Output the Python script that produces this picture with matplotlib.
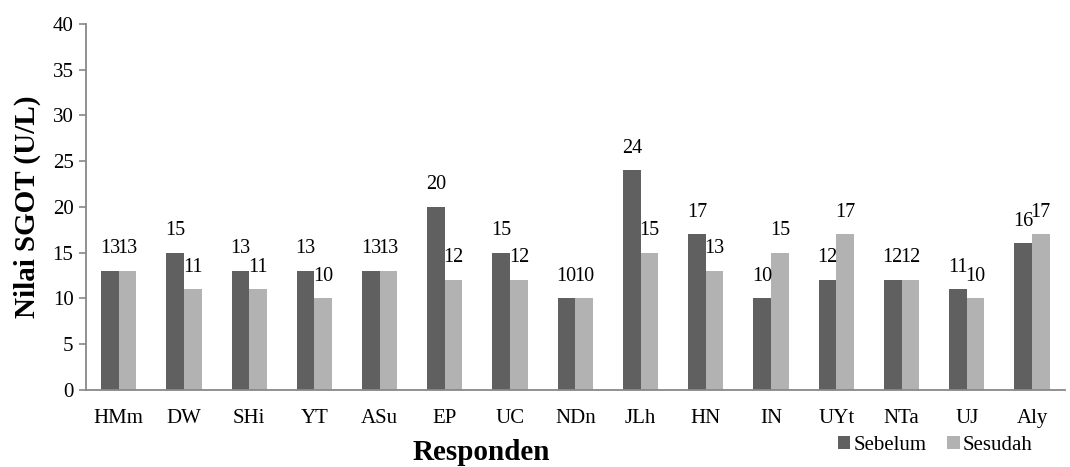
import numpy as np
import matplotlib.pyplot as plt

plt.rcParams['font.family'] = ['Liberation Serif', 'DejaVu Serif']

responden = ['HMm', 'DW', 'SHi', 'YT', 'ASu', 'EP', 'UC', 'NDn', 'JLh', 'HN',
             'IN', 'UYt', 'NTa', 'UJ', 'Aly']
sebelum = [13, 15, 13, 13, 13, 20, 15, 10, 24, 17, 10, 12, 12, 11, 16]
sesudah = [13, 11, 11, 10, 13, 12, 12, 10, 15, 13, 15, 17, 12, 10, 17]

fig = plt.figure(figsize=(10.7, 4.67), dpi=100)
ax = fig.add_axes([0.0804, 0.165, 0.9146, 0.784])

x = np.arange(len(responden))
w = 0.27
b1 = ax.bar(x - w / 2, sebelum, w, color='#606060', label='Sebelum')
b2 = ax.bar(x + w / 2, sesudah, w, color='#b2b2b2', label='Sesudah')

# label nilai di atas batang
for bars, vals in ((b1, sebelum), (b2, sesudah)):
    for r, v in zip(bars, vals):
        ax.annotate(str(v), (r.get_x() + r.get_width() / 2, v),
                    xytext=(0, 16), textcoords='offset points',
                    ha='center', va='center', fontsize=14.5)

ax.set_xlim(-0.5, len(responden) - 0.5)
ax.set_ylim(0, 40)
ax.set_yticks(range(0, 41, 5))
ax.set_xticks(x)
ax.set_xticklabels(responden)
ax.tick_params(axis='x', length=0, pad=14, labelsize=15)
ax.tick_params(axis='y', length=5, width=1.2, color='#888888', labelsize=15, pad=4)

for s in ('top', 'right'):
    ax.spines[s].set_visible(False)
for s in ('left', 'bottom'):
    ax.spines[s].set_color('#888888')
    ax.spines[s].set_linewidth(1.3)

ax.set_ylabel('Nilai SGOT (U/L)', fontsize=21, fontweight='bold', labelpad=8)
fig.text(0.45, 0.03, 'Responden', ha='center', va='center',
         fontsize=21, fontweight='bold')

ax.legend(loc='center', bbox_to_anchor=(0.868, -0.152), ncol=2, frameon=False,
          fontsize=15, handlelength=0.6, handleheight=0.6, handletextpad=0.15,
          columnspacing=1.0, borderpad=0)

fig.savefig('out.png', dpi=100)
